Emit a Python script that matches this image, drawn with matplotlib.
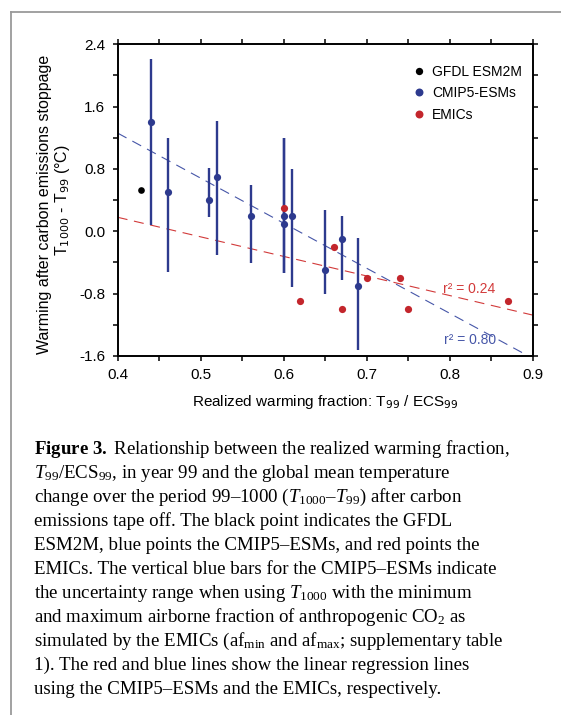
import numpy as np
import matplotlib
matplotlib.use("Agg")
import matplotlib.pyplot as plt
from matplotlib.lines import Line2D

# values
gfdl_x = [0.428]
gfdl_y = [0.53]

cmip_x = [0.44, 0.46, 0.51, 0.52, 0.56, 0.60, 0.60, 0.61, 0.65, 0.67, 0.69]
cmip_y = [1.40, 0.50, 0.40, 0.70, 0.20, 0.20, 0.10, 0.20, -0.50, -0.10, -0.70]
cmip_lo = [0.08, -0.52, 0.18, -0.30, -0.41, -0.53, -0.53, -0.71, -0.81, -0.63, -1.52]
cmip_hi = [2.21, 1.20, 0.81, 1.42, 0.60, 1.20, 1.20, 0.80, 0.27, 0.20, -0.08]

emic_x = [0.60, 0.62, 0.66, 0.67, 0.70, 0.74, 0.75, 0.87]
emic_y = [0.30, -0.90, -0.20, -1.00, -0.60, -0.60, -1.00, -0.90]

# regression lines (value at x=0.4, slope)
cmip_fit = (1.26, -5.78)
emic_fit = (0.18, -2.51)
fit_x = [0.4, 0.9]

xticks = [0.4, 0.5, 0.6, 0.7, 0.8, 0.9]
yticks = [2.4, 1.6, 0.8, 0.0, -0.8, -1.6]
ytick_labels = ["2.4", "1.6", "0.8", "0.0", "-0.8", "-1.6"]

Blue = "#2d3a8e"
Red = "#c3262c"
BlueLine = "#4656a8"
RedLine = "#d23a3a"

caption = [
    r"$\mathbf{Figure\ 3.}$ Relationship between the realized warming fraction,",
    r"$T_{99}$/ECS$_{99}$, in year 99 and the global mean temperature",
    r"change over the period 99–1000 ($T_{1000}$–$T_{99}$) after carbon",
    "emissions tape off. The black point indicates the GFDL",
    "ESM2M, blue points the CMIP5–ESMs, and red points the",
    "EMICs. The vertical blue bars for the CMIP5–ESMs indicate",
    r"the uncertainty range when using $T_{1000}$ with the minimum",
    r"and maximum airborne fraction of anthropogenic CO$_2$ as",
    r"simulated by the EMICs (af$_{\mathrm{min}}$ and af$_{\mathrm{max}}$; supplementary table",
    "1). The red and blue lines show the linear regression lines",
    "using the CMIP5–ESMs and the EMICs, respectively.",
]

plt.rcParams['font.family'] = ['Liberation Sans', 'DejaVu Sans']
plt.rcParams['axes.unicode_minus'] = False
plt.rcParams['mathtext.rm'] = 'Liberation Serif'
plt.rcParams['mathtext.it'] = 'Liberation Serif:italic'
plt.rcParams['mathtext.bf'] = 'Liberation Serif:bold'

W, H = 561, 715
fig = plt.figure(figsize=(W / 100, H / 100), dpi=100)
ax = fig.add_axes([117.7 / W, 1 - 356 / H, 415 / W, 311.7 / H])

# regression lines
fx = np.array(fit_x)
ax.plot(fx, cmip_fit[0] + cmip_fit[1] * (fx - 0.4), color=BlueLine, lw=0.8,
        dashes=(9, 6), zorder=1)
ax.plot(fx, emic_fit[0] + emic_fit[1] * (fx - 0.4), color=RedLine, lw=0.8,
        dashes=(9, 6), zorder=1)

ax.vlines(cmip_x, cmip_lo, cmip_hi, color=Blue, lw=1.7, zorder=2)
ax.plot(cmip_x, cmip_y, 'o', color=Blue, ms=5.2, mec='none', zorder=3,
        label="CMIP5-ESMs")
ax.plot(emic_x, emic_y, 'o', color=Red, ms=5.2, mec='none', zorder=4,
        label="EMICs")
ax.plot(gfdl_x, gfdl_y, 'o', color='black', ms=4.8, mec='none', zorder=4,
        label="GFDL ESM2M")

ax.text(0.824, -0.74, "r² = 0.24", color=RedLine, fontsize=10, ha='center', va='center')
ax.text(0.824, -1.40, "r² = 0.80", color=BlueLine, fontsize=10, ha='center', va='center')

h, l = ax.get_legend_handles_labels()
order = [2, 0, 1]
ax.legend([h[i] for i in order], [l[i] for i in order], loc='upper left',
          bbox_to_anchor=(0.68, 0.975), frameon=False, fontsize=10,
          handletextpad=0.4, handlelength=1.0, labelspacing=0.55, markerscale=1.1)

ax.set_xlim(0.4, 0.9)
ax.set_ylim(-1.6, 2.4)
ax.set_xticks(xticks)
ax.set_xticklabels(["%.1f" % v for v in xticks])
ax.set_xticks(np.arange(0.45, 0.9, 0.1), minor=True)
ax.set_yticks(yticks)
ax.set_yticklabels(ytick_labels)
ax.set_yticks([2.0, 1.2, 0.4, -0.4, -1.2], minor=True)
ax.tick_params(which='both', direction='out', top=True, right=True,
               length=3.8, width=1.1, labelsize=11, pad=5)
for s in ax.spines.values():
    s.set_linewidth(1.4)

ax.set_xlabel("Realized warming fraction: T$_{99}$ / ECS$_{99}$", fontsize=11, labelpad=8)

fig.text(45 / W, 1 - 204 / H, "Warming after carbon emissions stoppage",
         rotation=90, ha='center', va='center', fontsize=11.5)
fig.text(63 / W, 1 - 200 / H, "T$_{1000}$ - T$_{99}$ (°C)",
         rotation=90, ha='center', va='center', fontsize=11.5)

# caption
for i, line in enumerate(caption):
    fig.text(34 / W, 1 - (449 + 24 * i) / H, line, ha='left', va='center',
             fontsize=13.6, family='Liberation Serif', math_fontfamily='custom')

# grey frame of the page
fig.add_artist(Line2D([11 / W, 11 / W], [0, 1 - 12 / H], color='#9a9a9a', lw=1.3))
fig.add_artist(Line2D([11 / W, 1], [1 - 12 / H, 1 - 12 / H], color='#9a9a9a', lw=1.3))

fig.savefig("out.png", dpi=100)
